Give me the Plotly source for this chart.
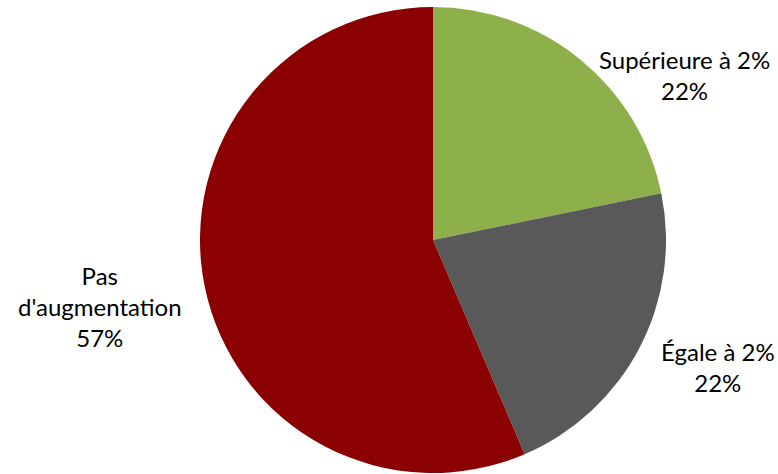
import plotly.graph_objects as go

# Répartition des réponses
categories = ["Supérieure à 2%", "Égale à 2%", "Pas d'augmentation"]
label_lines = ["Supérieure à 2%", "Égale à 2%", "Pas<br>d'augmentation"]
values = [22, 22, 57]
colors = ["#8eb04b", "#595959", "#8b0000"]

W, H = 778, 474

fig = go.Figure(
    go.Pie(
        labels=categories,
        values=values,
        sort=False,
        direction="clockwise",
        rotation=0,
        marker=dict(colors=colors, line=dict(width=0)),
        textinfo="none",
        hoverinfo="skip",
        showlegend=False,
        domain=dict(x=[199 / W, 667 / W], y=[1 - 473 / H, 1 - 7 / H]),
    )
)

# Étiquettes extérieures : nom de catégorie + pourcentage arrondi
label_pos = [(684, 75), (718, 367), (100, 306)]
for txt, v, (px, py) in zip(label_lines, values, label_pos):
    fig.add_annotation(
        x=px / W, y=1 - py / H, xref="paper", yref="paper",
        text=f"{txt}<br>{v}%", showarrow=False,
        xanchor="center", yanchor="middle", align="center",
        font=dict(family="Lato", size=24, color="#000000"),
    )

fig.update_layout(
    width=W, height=H,
    margin=dict(l=0, r=0, t=0, b=0),
    paper_bgcolor="white", plot_bgcolor="white",
)

fig.write_html("out.html")
